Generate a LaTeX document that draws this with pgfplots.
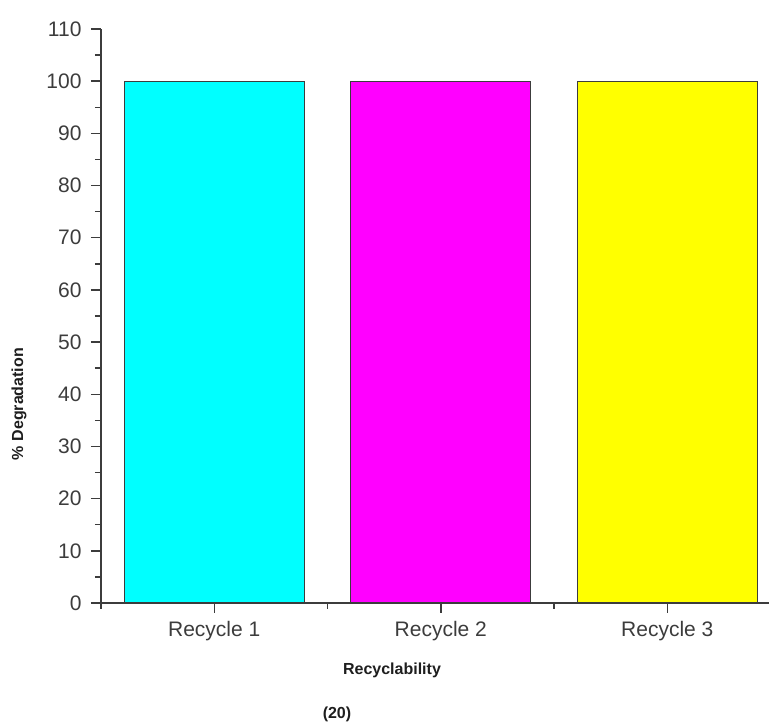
\documentclass[border=0pt]{standalone}
\usepackage{pgfplots}
\pgfplotsset{compat=1.18}
\usepackage{fontspec}
\setmainfont{Liberation Sans}
\definecolor{axgray}{HTML}{3C3C3C}
\definecolor{labblack}{HTML}{1E1E1E}
\definecolor{cbar}{HTML}{00FFFF}
\definecolor{mbar}{HTML}{FF00FF}
\definecolor{ybarc}{HTML}{FFFF00}
\begin{document}
\begin{tikzpicture}[x=1pt,y=1pt]
\begin{axis}[
 at={(0,0)}, anchor=south west,
 scale only axis, width=668pt, height=574pt,
 xmin=0.5, xmax=3.449, ymin=0, ymax=110,
 axis x line*=bottom, axis y line*=left,
 axis line style={axgray, line width=1.5pt},
 tick align=outside,
 xtick={1,2,3}, xticklabels={Recycle 1,Recycle 2,Recycle 3},
 minor xtick={0.5,1.5,2.5},
 ytick={0,10,...,110}, minor ytick={5,15,...,105},
 major tick length=10pt, minor tick length=6pt,
 tick style={axgray, line width=1.5pt},
 ticklabel style={font=\fontsize{21}{25}\selectfont, text=axgray},
 yticklabel style={xshift=-6pt},
 xticklabel style={yshift=-5pt},
 /pgf/number format/assume math mode=true,
 clip=false,
]
\addplot[ybar, bar width=180pt, bar shift=0pt, fill=cbar, draw=axgray, line width=1.3pt] coordinates {(1,100)};
\addplot[ybar, bar width=180pt, bar shift=0pt, fill=mbar, draw=axgray, line width=1.3pt] coordinates {(2,100)};
\addplot[ybar, bar width=180pt, bar shift=0pt, fill=ybarc, draw=axgray, line width=1.3pt] coordinates {(3,100)};
\end{axis}
\node[rotate=90, font=\fontsize{16}{19}\selectfont\bfseries, text=labblack] at (-82,199) {\% Degradation};
\node[font=\fontsize{16}{19}\selectfont\bfseries, text=labblack] at (291,-67) {Recyclability};
\node[font=\fontsize{16}{19}\selectfont\bfseries, text=labblack] at (236,-111) {(20)};
\pgfresetboundingbox
\useasboundingbox (-101,-119) rectangle (668,603);
\end{tikzpicture}
\end{document}
